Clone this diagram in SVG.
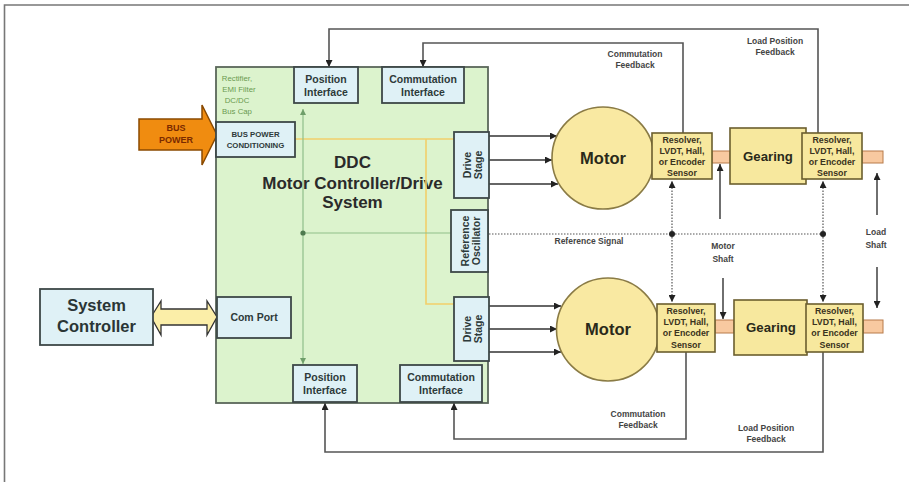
<svg xmlns="http://www.w3.org/2000/svg" width="909" height="482" viewBox="0 0 909 482">
<defs>
<style>
text{font-family:"Liberation Sans",Arial,sans-serif;font-weight:bold;text-anchor:middle}
.box{fill:#dff1f6;stroke:#3d4848;stroke-width:1.8}
.sens{fill:#f7e89e;stroke:#6b5e2e;stroke-width:1.6}
.shaft{fill:#f8c9a0;stroke:#b87a4a;stroke-width:1}
.motor{fill:#f9e9a2;stroke:#8a7b45;stroke-width:1.6}
.fb{fill:none;stroke:#555;stroke-width:1.6}
.drv{fill:none;stroke:#333;stroke-width:1.4}
.dot{fill:none;stroke:#555;stroke-width:1.2;stroke-dasharray:1.5 1.5}
.sh{fill:none;stroke:#333;stroke-width:1.4}
.yl{fill:none;stroke:#f2cf6a;stroke-width:1.6}
.gl{fill:none;stroke:#8fbf8a;stroke-width:1.2}
.t-if{font-size:10.5px;fill:#2e3a3a}
.t-lbl{font-size:8.5px;fill:#444}
.t-sens{font-size:8.8px;fill:#3a3320}
.t-rect{font-size:7.8px;fill:#6a9a50;font-weight:normal}
</style>
<marker id="ah" viewBox="0 0 8 8" refX="8" refY="4" markerWidth="7" markerHeight="7" markerUnits="userSpaceOnUse" orient="auto"><path d="M0,0 L8,4 L0,8 z" fill="#222"/></marker>
<marker id="ahg" viewBox="0 0 8 8" refX="8" refY="4" markerWidth="6" markerHeight="6" markerUnits="userSpaceOnUse" orient="auto"><path d="M0,0 L8,4 L0,8 z" fill="#6f9e6a"/></marker>
</defs>
<rect width="909" height="482" fill="#fff"/>
<path d="M4.5,482 V5 H909" fill="none" stroke="#777" stroke-width="1.6"/>

<g id="ddc">
<rect x="216" y="67" width="272" height="336" fill="#dcf3cd" stroke="#5a675a" stroke-width="1.8"/>
<text x="352.5" y="168" font-size="17" fill="#2a2a2a">DDC</text>
<text x="352.5" y="189" font-size="17" fill="#2a2a2a">Motor Controller/Drive</text>
<text x="352.5" y="208" font-size="17" fill="#2a2a2a">System</text>
<text class="t-rect" x="237" y="81">Rectifier,</text>
<text class="t-rect" x="239" y="92">EMI Filter</text>
<text class="t-rect" x="237" y="103">DC/DC</text>
<text class="t-rect" x="237" y="114">Bus Cap</text>
</g>

<g id="connectors">
<path class="yl" d="M295,139 H454"/>
<path class="yl" d="M426,139 V304 H454"/>
<path class="gl" d="M303,233 H451"/>
<path class="gl" d="M303,233 V109" marker-end="url(#ahg)"/>
<path class="gl" d="M303,233 V364" marker-end="url(#ahg)"/>
<circle cx="303" cy="233" r="2.6" fill="#4f7a4f"/>
<path class="drv" d="M489,136 H557" marker-end="url(#ah)"/>
<path class="drv" d="M489,160 H552" marker-end="url(#ah)"/>
<path class="drv" d="M489,184 H558" marker-end="url(#ah)"/>
<path class="drv" d="M489,306 H561" marker-end="url(#ah)"/>
<path class="drv" d="M489,329 H557" marker-end="url(#ah)"/>
<path class="drv" d="M489,352 H561" marker-end="url(#ah)"/>
<path class="dot" d="M489,234 H823"/>
<path class="dot" d="M672,234 V181" marker-end="url(#ah)"/>
<path class="dot" d="M672,234 V302" marker-end="url(#ah)"/>
<path class="dot" d="M823,234 V181" marker-end="url(#ah)"/>
<path class="dot" d="M823,234 V302" marker-end="url(#ah)"/>
<circle cx="672" cy="234" r="3" fill="#222"/>
<circle cx="823" cy="234" r="3" fill="#222"/>
<path class="fb" d="M683,133 V43 H423 V67" marker-end="url(#ah)"/>
<path class="fb" d="M818,133 V29 H329 V67" marker-end="url(#ah)"/>
<path class="fb" d="M686,352 V439 H454 V403" marker-end="url(#ah)"/>
<path class="fb" d="M823,352 V452 H325 V403" marker-end="url(#ah)"/>
<path class="sh" d="M720,219 V164" marker-end="url(#ah)"/>
<path class="sh" d="M723,278 V319" marker-end="url(#ah)"/>
<path class="sh" d="M877,215 V173" marker-end="url(#ah)"/>
<path class="sh" d="M877,267 V308" marker-end="url(#ah)"/>
<path d="M151,317 L161,301 V309 H207 V301 L217,317 L207,335 V325 H161 V335 Z" fill="#fbeea8" stroke="#333" stroke-width="1.3"/>
</g>

<g id="labels">
<text class="t-lbl" x="635" y="57">Commutation</text>
<text class="t-lbl" x="635" y="68">Feedback</text>
<text class="t-lbl" x="775" y="44">Load Position</text>
<text class="t-lbl" x="775" y="55">Feedback</text>
<text class="t-lbl" x="638" y="417">Commutation</text>
<text class="t-lbl" x="638" y="428">Feedback</text>
<text class="t-lbl" x="766" y="431">Load Position</text>
<text class="t-lbl" x="766" y="442">Feedback</text>
<text class="t-lbl" x="589" y="244">Reference Signal</text>
<text class="t-lbl" x="723" y="249" font-size="9.5">Motor</text>
<text class="t-lbl" x="723" y="262" font-size="9.5">Shaft</text>
<text class="t-lbl" x="876" y="235" font-size="9.5">Load</text>
<text class="t-lbl" x="876" y="248" font-size="9.5">Shaft</text>
</g>

<g id="bus-power">
<path d="M139,119 H202 V105 L217,135 L202,165 V150 H139 Z" fill="#f08c10" stroke="#8a4a00" stroke-width="1.5"/>
<text x="176" y="131" font-size="9" fill="#7a2a00">BUS</text>
<text x="176" y="143" font-size="9" fill="#7a2a00">POWER</text>
</g>

<g id="bus-power-conditioning">
<rect class="box" x="216" y="122" width="79" height="35"/>
<text x="255.5" y="137" font-size="7.8" fill="#2e3a3a">BUS POWER</text>
<text x="255.5" y="148" font-size="7.8" fill="#2e3a3a">CONDITIONING</text>
</g>

<g id="position-interface-top">
<rect class="box" x="294" y="67" width="64" height="36"/>
<text class="t-if" x="326" y="83">Position</text>
<text class="t-if" x="326" y="96">Interface</text>
</g>

<g id="commutation-interface-top">
<rect class="box" x="382" y="67" width="82" height="36"/>
<text class="t-if" x="423" y="83">Commutation</text>
<text class="t-if" x="423" y="96">Interface</text>
</g>

<g id="drive-stage-top">
<rect class="box" x="454" y="132" width="35" height="66"/>
<g transform="translate(471.5,165) rotate(-90)">
<text class="t-if" x="0" y="-1" font-size="10">Drive</text>
<text class="t-if" x="0" y="10" font-size="10">Stage</text>
</g>
</g>

<g id="reference-oscillator">
<rect class="box" x="451" y="210" width="37" height="62"/>
<g transform="translate(469.5,241) rotate(-90)">
<text class="t-if" x="0" y="-1" font-size="10">Reference</text>
<text class="t-if" x="0" y="10" font-size="10">Oscillator</text>
</g>
</g>

<g id="drive-stage-bottom">
<rect class="box" x="454" y="297" width="35" height="64"/>
<g transform="translate(471.5,329) rotate(-90)">
<text class="t-if" x="0" y="-1" font-size="10">Drive</text>
<text class="t-if" x="0" y="10" font-size="10">Stage</text>
</g>
</g>

<g id="com-port">
<rect class="box" x="217" y="297" width="74" height="41"/>
<text class="t-if" x="254" y="321">Com Port</text>
</g>

<g id="system-controller">
<rect class="box" x="40" y="289" width="113" height="56"/>
<text x="96.5" y="311" font-size="16.5" fill="#2a3535">System</text>
<text x="96.5" y="332" font-size="16.5" fill="#2a3535">Controller</text>
</g>

<g id="position-interface-bottom">
<rect class="box" x="293" y="365" width="64" height="37"/>
<text class="t-if" x="325" y="381">Position</text>
<text class="t-if" x="325" y="394">Interface</text>
</g>

<g id="commutation-interface-bottom">
<rect class="box" x="400" y="365" width="82" height="37"/>
<text class="t-if" x="441" y="381">Commutation</text>
<text class="t-if" x="441" y="394">Interface</text>
</g>

<g id="motor-top">
<circle class="motor" cx="603" cy="158" r="51"/>
<text x="603" y="164" font-size="16.5" fill="#2a2a1a">Motor</text>
</g>

<g id="motor-bottom">
<circle class="motor" cx="608" cy="329.5" r="51.5"/>
<text x="608" y="335" font-size="16.5" fill="#2a2a1a">Motor</text>
</g>

<g id="shafts">
<rect class="shaft" x="712" y="151" width="18" height="12"/>
<rect class="shaft" x="862" y="151" width="21" height="12"/>
<rect class="shaft" x="715" y="320" width="19" height="13"/>
<rect class="shaft" x="863" y="320" width="20" height="13"/>
</g>

<g id="sensor-motor-top">
<rect class="sens" x="652" y="133" width="60" height="46"/>
<text class="t-sens" x="682" y="143">Resolver,</text>
<text class="t-sens" x="682" y="154">LVDT, Hall,</text>
<text class="t-sens" x="682" y="165">or Encoder</text>
<text class="t-sens" x="682" y="176">Sensor</text>
</g>

<g id="gearing-top">
<rect class="sens" x="730" y="128" width="76" height="56"/>
<text x="768" y="161" font-size="13.2" fill="#2a2a1a">Gearing</text>
</g>

<g id="sensor-load-top">
<rect class="sens" x="802" y="133" width="60" height="46"/>
<text class="t-sens" x="832" y="143">Resolver,</text>
<text class="t-sens" x="832" y="154">LVDT, Hall,</text>
<text class="t-sens" x="832" y="165">or Encoder</text>
<text class="t-sens" x="832" y="176">Sensor</text>
</g>

<g id="sensor-motor-bottom">
<rect class="sens" x="657" y="304" width="58" height="48"/>
<text class="t-sens" x="686" y="314">Resolver,</text>
<text class="t-sens" x="686" y="325">LVDT, Hall,</text>
<text class="t-sens" x="686" y="336">or Encoder</text>
<text class="t-sens" x="686" y="348">Sensor</text>
</g>

<g id="gearing-bottom">
<rect class="sens" x="734" y="300" width="73" height="55"/>
<text x="771" y="332" font-size="13.2" fill="#2a2a1a">Gearing</text>
</g>

<g id="sensor-load-bottom">
<rect class="sens" x="806" y="304" width="57" height="48"/>
<text class="t-sens" x="834.5" y="314">Resolver,</text>
<text class="t-sens" x="834.5" y="325">LVDT, Hall,</text>
<text class="t-sens" x="834.5" y="336">or Encoder</text>
<text class="t-sens" x="834.5" y="348">Sensor</text>
</g>
</svg>
